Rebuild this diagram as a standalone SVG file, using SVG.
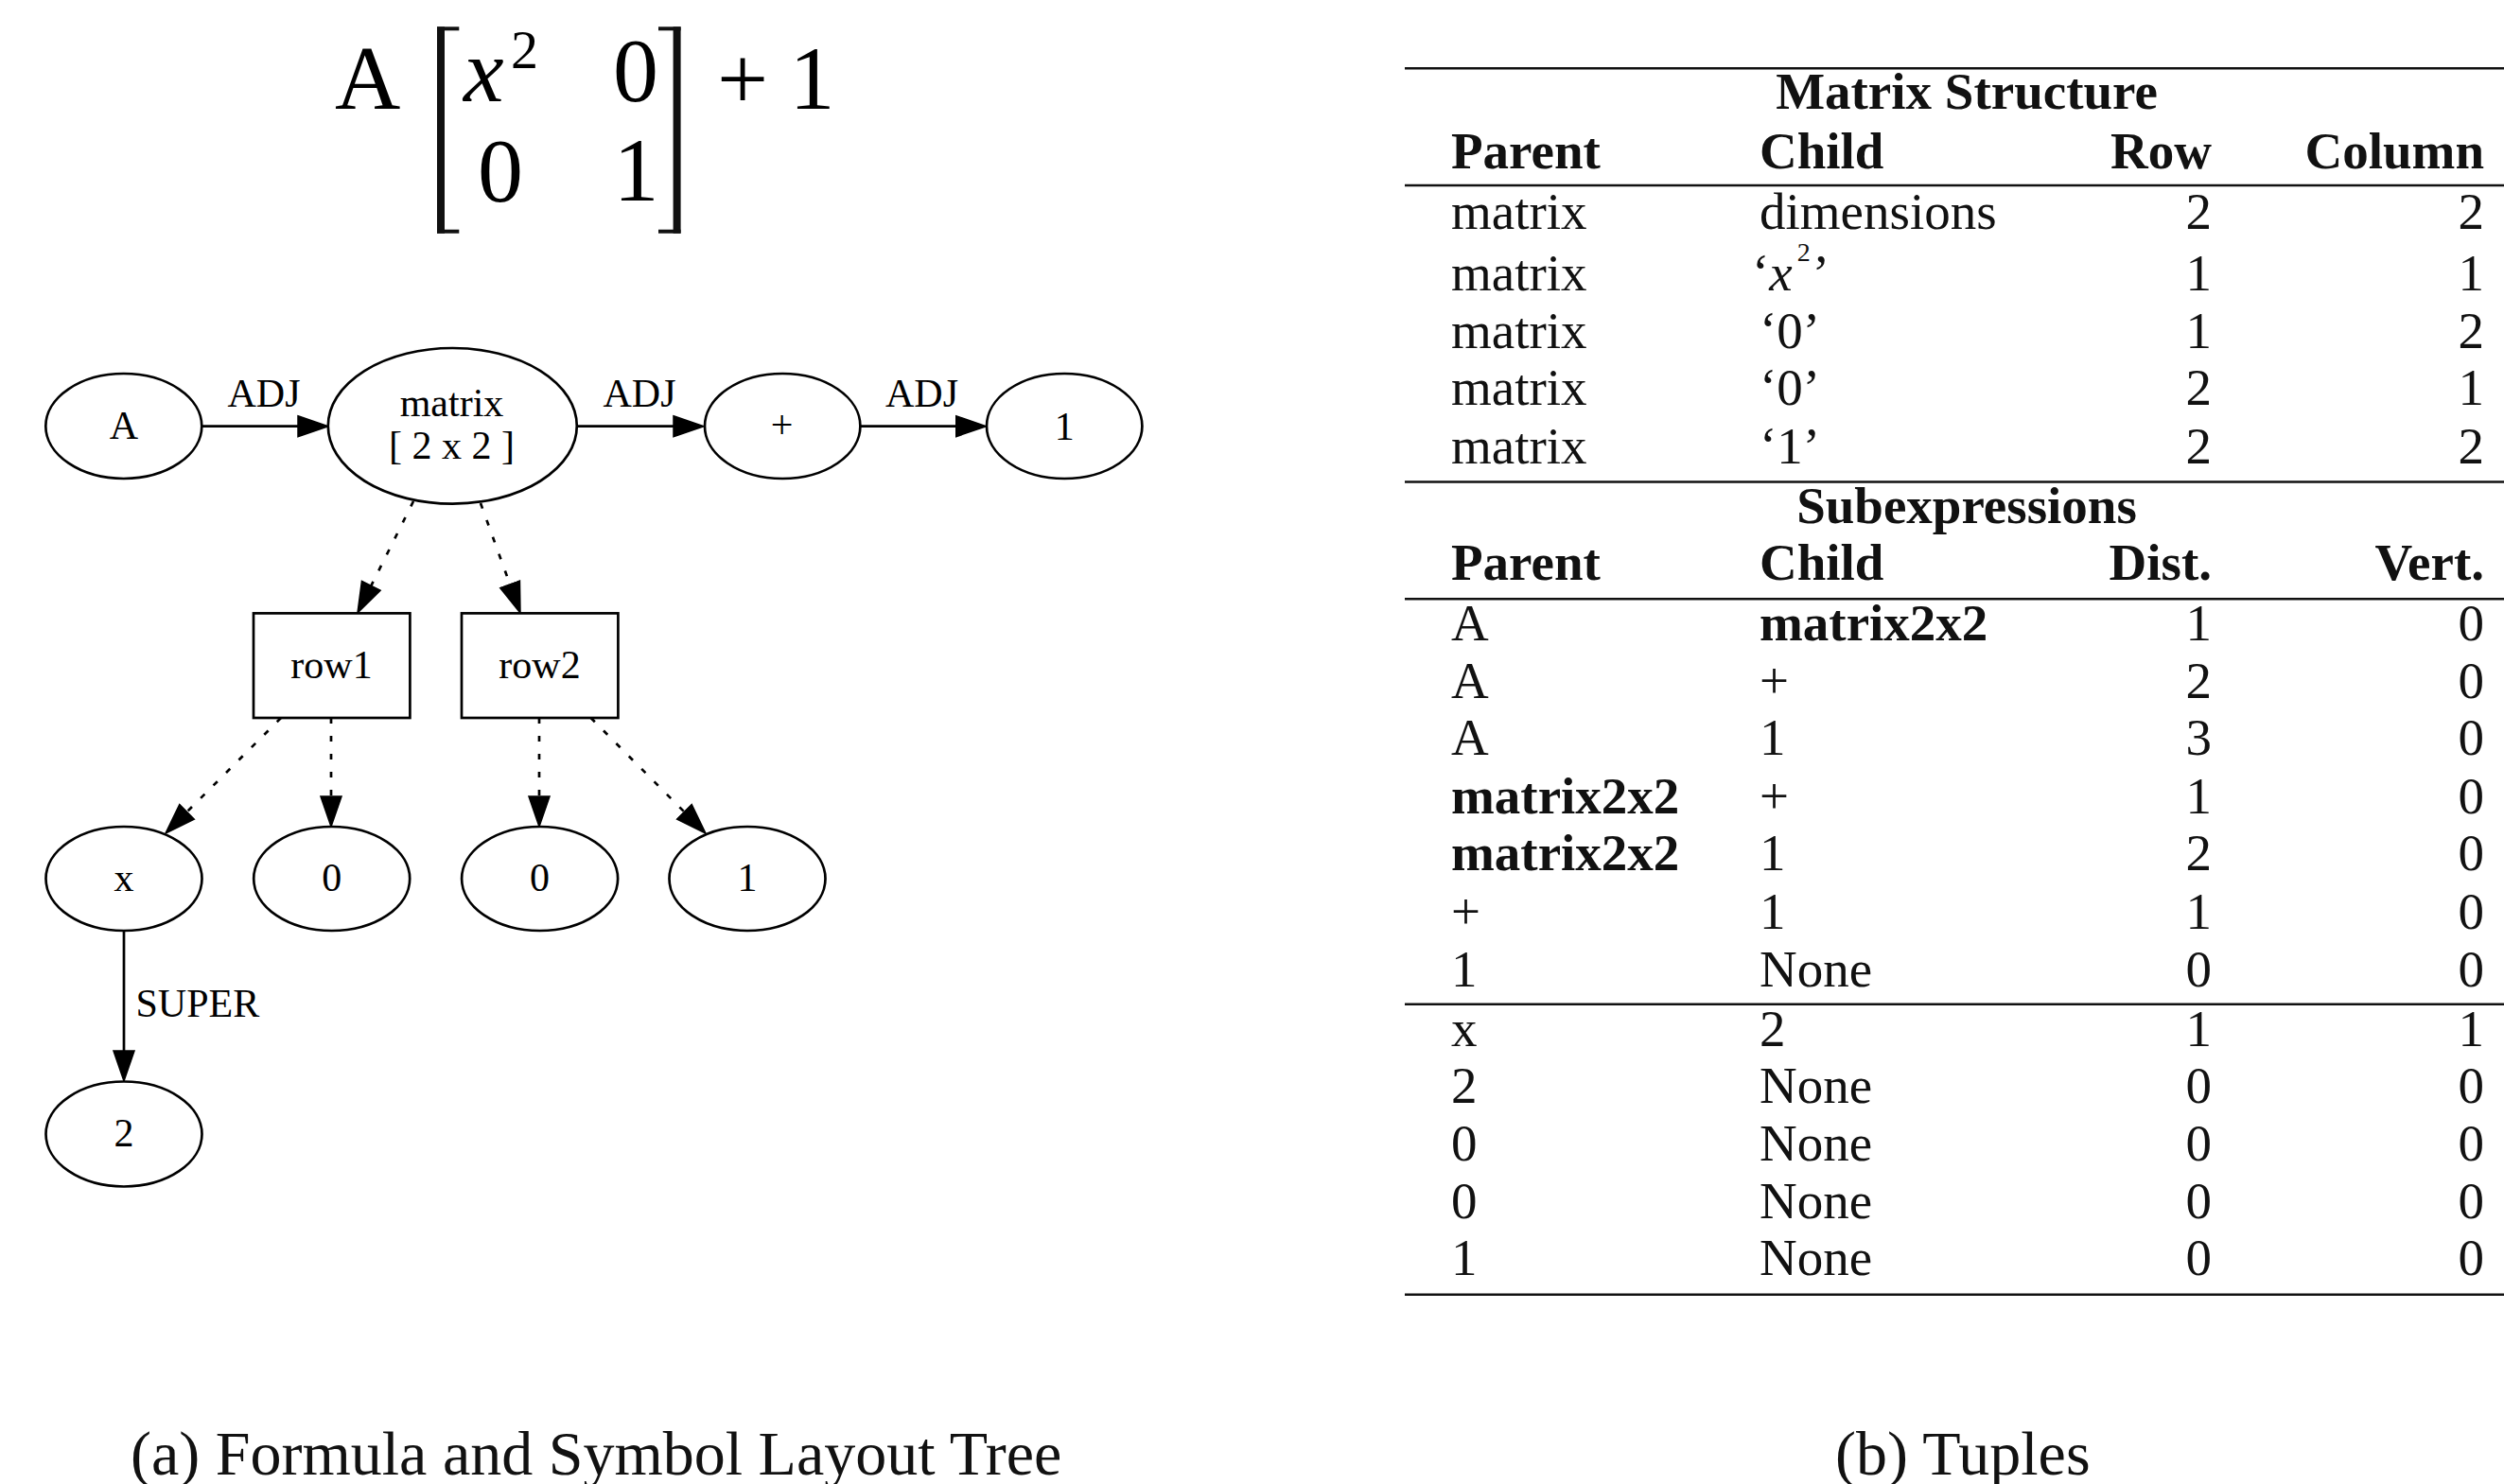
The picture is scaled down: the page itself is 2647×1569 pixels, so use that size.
<svg xmlns="http://www.w3.org/2000/svg" width="2647" height="1569" viewBox="0 0 2647 1569">
<style>
text{font-family:"Liberation Serif","Times New Roman",serif;fill:#111}
.n{fill:#fff;stroke:#000;stroke-width:2.7}
.nl{font-size:42px;text-anchor:middle;fill:#000}
.el{font-size:42px;fill:#000}
.e{fill:none;stroke:#000;stroke-width:2.7}
.d{stroke-dasharray:6 13}
.f{font-size:96px;fill:#000}
.sup{font-size:58px;fill:#000}
.t{font-size:55px}
.b{font-weight:bold}
.r{text-anchor:end}
.m{text-anchor:middle}
.rule{stroke:#111;stroke-width:2.5}
.cap{font-size:66px}
</style>
<defs>
<marker id="ah" markerUnits="userSpaceOnUse" markerWidth="36" markerHeight="26" viewBox="-1 -13 36 26" refX="0" refY="0" orient="auto">
<path d="M0,-11 L32,0 L0,11 z" fill="#000" stroke="#000" stroke-width="1.5" stroke-dasharray="none"/>
</marker>
</defs>

<g id="formula">
<text class="f" x="354" y="115">A</text>
<rect x="462" y="28.3" width="8" height="218.4" fill="#111"/>
<rect x="462" y="28.3" width="23.3" height="4" fill="#111"/>
<rect x="462" y="242.7" width="23.3" height="4" fill="#111"/>
<text class="f" x="490" y="107" font-style="italic">x</text>
<text class="sup" x="540" y="72">2</text>
<text class="f m" x="672" y="107">0</text>
<text class="f m" x="529" y="213">0</text>
<text class="f m" x="672.5" y="212">1</text>
<rect x="711.6" y="28.3" width="8" height="218.4" fill="#111"/>
<rect x="696" y="28.3" width="23.6" height="4" fill="#111"/>
<rect x="696" y="242.7" width="23.6" height="4" fill="#111"/>
<text class="f m" x="785" y="115">+</text>
<text class="f m" x="858.5" y="115">1</text>
</g>

<g id="connectors">
<line class="e" x1="213.3" y1="450.7" x2="315" y2="450.7" marker-end="url(#ah)"/>
<text class="el" x="279" y="430" text-anchor="middle">ADJ</text>
<line class="e" x1="610" y1="450.7" x2="712" y2="450.7" marker-end="url(#ah)"/>
<text class="el" x="676" y="430" text-anchor="middle">ADJ</text>
<line class="e" x1="909" y1="450.7" x2="1010.5" y2="450.7" marker-end="url(#ah)"/>
<text class="el" x="974.5" y="430" text-anchor="middle">ADJ</text>
<line class="e d" x1="437" y1="530" x2="392.3" y2="619.4" marker-end="url(#ah)"/>
<line class="e d" x1="508" y1="532" x2="539.1" y2="617.9" marker-end="url(#ah)"/>
<line class="e d" x1="297" y1="759" x2="197.6" y2="858.4" marker-end="url(#ah)"/>
<line class="e d" x1="350" y1="759" x2="350" y2="842" marker-end="url(#ah)"/>
<line class="e d" x1="570" y1="759" x2="570" y2="842" marker-end="url(#ah)"/>
<line class="e d" x1="624.6" y1="759" x2="723.4" y2="858.4" marker-end="url(#ah)"/>
<line class="e" x1="131" y1="984" x2="131" y2="1111" marker-end="url(#ah)"/>
<text class="el" x="143.5" y="1075">SUPER</text>
</g>

<g id="node-A"><ellipse class="n" cx="130.8" cy="450.5" rx="82.5" ry="55.5"/><text class="nl" x="130.8" y="464">A</text></g>
<g id="node-matrix"><ellipse class="n" cx="478.3" cy="450.3" rx="131.5" ry="82.3"/><text class="nl" x="477.5" y="440">matrix</text><text class="nl" x="477.5" y="485">[ 2 x 2 ]</text></g>
<g id="node-plus"><ellipse class="n" cx="827.2" cy="450.5" rx="82.2" ry="55.5"/><text class="nl" x="826.5" y="463">+</text></g>
<g id="node-one"><ellipse class="n" cx="1125.2" cy="450.5" rx="82.2" ry="55.5"/><text class="nl" x="1125.2" y="465">1</text></g>
<g id="node-row1"><rect class="n" x="268" y="648.4" width="165.4" height="110.6"/><text class="nl" x="350.5" y="717">row1</text></g>
<g id="node-row2"><rect class="n" x="488" y="648.4" width="165.4" height="110.6"/><text class="nl" x="570.5" y="717">row2</text></g>
<g id="node-x"><ellipse class="n" cx="131" cy="929" rx="82.5" ry="55"/><text class="nl" x="131" y="941.5">x</text></g>
<g id="node-zero1"><ellipse class="n" cx="350.7" cy="929" rx="82.5" ry="55"/><text class="nl" x="350.7" y="941.5">0</text></g>
<g id="node-zero2"><ellipse class="n" cx="570.6" cy="929" rx="82.5" ry="55"/><text class="nl" x="570.6" y="941.5">0</text></g>
<g id="node-one2"><ellipse class="n" cx="790" cy="929" rx="82.5" ry="55"/><text class="nl" x="790" y="941.5">1</text></g>
<g id="node-two"><ellipse class="n" cx="131" cy="1199" rx="82.5" ry="55.5"/><text class="nl" x="131" y="1211.5">2</text></g>

<g id="table">
<line class="rule" x1="1485" y1="72.3" x2="2647" y2="72.3" stroke-width="3.3"/>
<text class="t b m" x="2079" y="115">Matrix Structure</text>
<text class="t b" x="1534" y="178">Parent</text>
<text class="t b" x="1860" y="178">Child</text>
<text class="t b r" x="2338" y="178">Row</text>
<text class="t b r" x="2626" y="178">Column</text>
<line class="rule" x1="1485" y1="196" x2="2647" y2="196" stroke-width="2.3"/>

<text class="t" x="1534" y="241.7">matrix</text><text class="t" x="1860" y="241.7">dimensions</text><text class="t r" x="2338" y="241.7">2</text><text class="t r" x="2626" y="241.7">2</text>
<text class="t" x="1534" y="306.7">matrix</text><text class="t" x="1852" y="306.7">‘<tspan font-style="italic">x</tspan><tspan font-size="28" dx="5" dy="-31">2</tspan><tspan dx="2" dy="31">’</tspan></text><text class="t r" x="2338" y="306.7">1</text><text class="t r" x="2626" y="306.7">1</text>
<text class="t" x="1534" y="368">matrix</text><text class="t" x="1860" y="368">‘0’</text><text class="t r" x="2338" y="368">1</text><text class="t r" x="2626" y="368">2</text>
<text class="t" x="1534" y="428.3">matrix</text><text class="t" x="1860" y="428.3">‘0’</text><text class="t r" x="2338" y="428.3">2</text><text class="t r" x="2626" y="428.3">1</text>
<text class="t" x="1534" y="490">matrix</text><text class="t" x="1860" y="490">‘1’</text><text class="t r" x="2338" y="490">2</text><text class="t r" x="2626" y="490">2</text>
<line class="rule" x1="1485" y1="509.5" x2="2647" y2="509.5"/>

<text class="t b m" x="2079" y="553">Subexpressions</text>
<text class="t b" x="1534" y="613.3">Parent</text>
<text class="t b" x="1860" y="613.3">Child</text>
<text class="t b r" x="2338" y="613.3">Dist.</text>
<text class="t b r" x="2626" y="613.3">Vert.</text>
<line class="rule" x1="1485" y1="633.3" x2="2647" y2="633.3"/>

<text class="t" x="1534" y="676.7">A</text><text class="t b" x="1860" y="676.7">matrix2x2</text><text class="t r" x="2338" y="676.7">1</text><text class="t r" x="2626" y="676.7">0</text>
<text class="t" x="1534" y="738.3">A</text><text class="t" x="1860" y="738.3">+</text><text class="t r" x="2338" y="738.3">2</text><text class="t r" x="2626" y="738.3">0</text>
<text class="t" x="1534" y="798.3">A</text><text class="t" x="1860" y="798.3">1</text><text class="t r" x="2338" y="798.3">3</text><text class="t r" x="2626" y="798.3">0</text>
<text class="t b" x="1534" y="860">matrix2x2</text><text class="t" x="1860" y="860">+</text><text class="t r" x="2338" y="860">1</text><text class="t r" x="2626" y="860">0</text>
<text class="t b" x="1534" y="920">matrix2x2</text><text class="t" x="1860" y="920">1</text><text class="t r" x="2338" y="920">2</text><text class="t r" x="2626" y="920">0</text>
<text class="t" x="1534" y="981.7">+</text><text class="t" x="1860" y="981.7">1</text><text class="t r" x="2338" y="981.7">1</text><text class="t r" x="2626" y="981.7">0</text>
<text class="t" x="1534" y="1042.7">1</text><text class="t" x="1860" y="1042.7">None</text><text class="t r" x="2338" y="1042.7">0</text><text class="t r" x="2626" y="1042.7">0</text>
<line class="rule" x1="1485" y1="1061.7" x2="2647" y2="1061.7"/>
<text class="t" x="1534" y="1106">x</text><text class="t" x="1860" y="1106">2</text><text class="t r" x="2338" y="1106">1</text><text class="t r" x="2626" y="1106">1</text>
<text class="t" x="1534" y="1166">2</text><text class="t" x="1860" y="1166">None</text><text class="t r" x="2338" y="1166">0</text><text class="t r" x="2626" y="1166">0</text>
<text class="t" x="1534" y="1226.7">0</text><text class="t" x="1860" y="1226.7">None</text><text class="t r" x="2338" y="1226.7">0</text><text class="t r" x="2626" y="1226.7">0</text>
<text class="t" x="1534" y="1287.7">0</text><text class="t" x="1860" y="1287.7">None</text><text class="t r" x="2338" y="1287.7">0</text><text class="t r" x="2626" y="1287.7">0</text>
<text class="t" x="1534" y="1348.3">1</text><text class="t" x="1860" y="1348.3">None</text><text class="t r" x="2338" y="1348.3">0</text><text class="t r" x="2626" y="1348.3">0</text>
<line class="rule" x1="1485" y1="1368.7" x2="2647" y2="1368.7" stroke-width="3.5"/>
</g>

<g id="captions">
<text class="cap" x="138" y="1559">(a) Formula and Symbol Layout Tree</text>
<text class="cap" x="1940" y="1559">(b) Tuples</text>
</g>
</svg>
